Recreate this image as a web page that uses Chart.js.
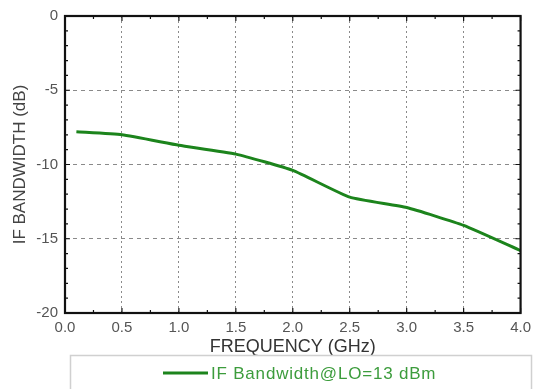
<!DOCTYPE html>
<html lang="en">
<head>
<meta charset="UTF-8">
<title>IF Bandwidth</title>
<script src="https://cdn.jsdelivr.net/npm/chart.js"></script>
<style>
  body { margin: 0; background: #fff; }
  #wrap { width: 537px; height: 389px; }
</style>
</head>
<body>
<div id="wrap"><canvas id="bwChart" width="537" height="389"></canvas></div>
<script>
// data
const freqGHz = [0.1, 0.5, 1.0, 1.5, 2.0, 2.5, 3.0, 3.5, 4.0];
const bandwidthDb = [-7.8, -8.0, -8.7, -9.3, -10.4, -12.2, -12.9, -14.1, -15.8];
const seriesLabel = 'IF Bandwidth@LO=13 dBm';
const xTitle = 'FREQUENCY (GHz)';
const yTitle = 'IF BANDWIDTH (dB)';

const green = '#1c841c';
const family = 'Liberation Sans, Arial, sans-serif';

// frame, inward ticks and the boxed legend
const framePlugin = {
  id: 'frame',
  afterDraw(chart) {
    const ctx = chart.ctx;
    const a = chart.chartArea;
    const xs = chart.scales.x, ys = chart.scales.y;
    ctx.save();
    ctx.strokeStyle = '#111';
    ctx.lineWidth = 1.2;
    ctx.beginPath();
    for (let v = 0; v <= 4.0001; v += 0.25) {
      const px = xs.getPixelForValue(v);
      const len = Math.abs(v * 2 - Math.round(v * 2)) < 1e-6 ? 5 : 3;
      ctx.moveTo(px, a.bottom); ctx.lineTo(px, a.bottom - len);
      ctx.moveTo(px, a.top); ctx.lineTo(px, a.top + len);
    }
    for (let v = -20; v <= 0; v += 1) {
      const py = ys.getPixelForValue(v);
      const len = v % 5 === 0 ? 5 : 3;
      ctx.moveTo(a.left, py); ctx.lineTo(a.left + len, py);
      ctx.moveTo(a.right, py); ctx.lineTo(a.right - len, py);
    }
    ctx.stroke();
    ctx.lineWidth = 2.2;
    ctx.strokeRect(a.left, a.top, a.right - a.left, a.bottom - a.top);

    // legend box
    const ds = chart.data.datasets[0];
    ctx.strokeStyle = '#d0d0d0';
    ctx.lineWidth = 1.5;
    ctx.strokeRect(70.5, 355.5, 461, 40);
    ctx.strokeStyle = ds.borderColor;
    ctx.lineWidth = 3;
    ctx.beginPath();
    ctx.moveTo(163, 373); ctx.lineTo(208, 373);
    ctx.stroke();
    ctx.fillStyle = '#3c9c3c';
    ctx.font = '17px ' + family;
    ctx.letterSpacing = '0.8px';
    ctx.textBaseline = 'middle';
    ctx.fillText(ds.label, 211, 374);
    ctx.restore();
  }
};

new Chart(document.getElementById('bwChart'), {
  type: 'line',
  data: {
    datasets: [{
      label: seriesLabel,
      data: freqGHz.map((f, i) => ({ x: f, y: bandwidthDb[i] })),
      borderColor: green,
      backgroundColor: green,
      borderWidth: 3,
      pointRadius: 0,
      tension: 0.15
    }]
  },
  options: {
    responsive: false,
    animation: false,
    layout: { padding: { left: 0, top: 14, right: 13, bottom: 30 } },
    plugins: { legend: { display: false }, tooltip: { enabled: false } },
    scales: {
      x: {
        type: 'linear',
        min: 0, max: 4,
        afterFit(scale) { scale.height = 46; },
        ticks: { stepSize: 0.5, padding: 6, color: '#555', font: { family, size: 15 }, maxRotation: 0,
                 callback: v => v.toFixed(1) },
        grid: { color: '#8a8a8a', lineWidth: 1, drawTicks: false },
        border: { display: false, dash: [2, 3] },
        title: { display: true, text: xTitle, color: '#333', font: { family, size: 18 },
                 padding: { top: 0, bottom: 1 } }
      },
      y: {
        min: -20, max: 0,
        afterFit(scale) { scale.width = 65; },
        ticks: { stepSize: 5, padding: 7, color: '#555', font: { family, size: 15 } },
        grid: { color: '#8a8a8a', lineWidth: 1, drawTicks: false },
        border: { display: false, dash: [4, 4] },
        title: { display: true, text: yTitle, color: '#444', font: { family, size: 17 },
                 padding: { top: 10, bottom: 0 } }
      }
    }
  },
  plugins: [framePlugin]
});
</script>
</body>
</html>
